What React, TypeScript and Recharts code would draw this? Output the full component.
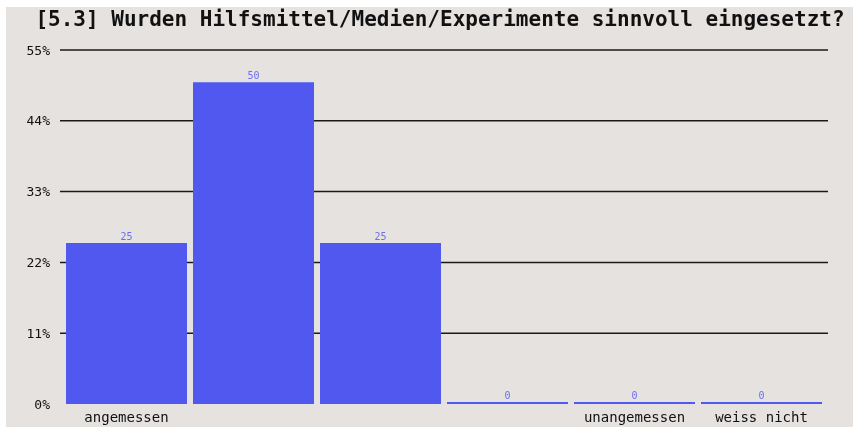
import { BarChart, Bar, XAxis, YAxis, CartesianGrid, LabelList } from 'recharts';

const CATEGORIES = ['1', '2', '3', '4', '5', '6'];
const TICK_LABELS = ['angemessen', '', '', '', 'unangemessen', 'weiss nicht'];
const PERCENTS = [25, 50, 25, 0, 0, 0];
const Y_TICKS = [0, 11, 22, 33, 44, 55];
const GRID_VALUES = [11, 22, 33, 44, 55];

const TITLE = '[5.3] Wurden Hilfsmittel/Medien/Experimente sinnvoll eingesetzt?';
const MONO = '"DejaVu Sans Mono", "Liberation Mono", monospace';

const data = CATEGORIES.map((c, i) => ({ cat: c, label: TICK_LABELS[i], value: PERCENTS[i] }));

// grid lines run a little past the bar area on both sides
const GridLine = (p: any) => (
  <line
    key={p.key}
    x1={p.x1 - 3}
    x2={p.x2 + 3}
    y1={p.y1}
    y2={p.y2}
    stroke="#1a1a1a"
    strokeWidth={1.5}
  />
);

export default function App() {
  return (
    <div style={{ position: 'fixed', left: 0, top: 0, width: 853, height: 427, background: '#fff' }}>
      <div style={{ position: 'absolute', left: 6, top: 7, width: 847, height: 420, background: '#e6e2e0' }}>
        <div
          style={{
            position: 'absolute',
            left: 0,
            top: 0,
            width: 868,
            textAlign: 'center',
            fontFamily: MONO,
            fontWeight: 'bold',
            fontSize: 21,
            lineHeight: '24px',
            color: '#111',
          }}
        >
          {TITLE}
        </div>
        <BarChart
          width={847}
          height={420}
          data={data}
          margin={{ top: 43, right: 28, bottom: 0, left: 0 }}
          barCategoryGap={3}
        >
          <CartesianGrid
            vertical={false}
            horizontalValues={GRID_VALUES}
            horizontal={GridLine}
          />
          <XAxis
            dataKey="cat"
            tickFormatter={(v: string, i: number) => TICK_LABELS[i]}
            axisLine={false}
            tickLine={false}
            height={23}
            tickMargin={2}
            interval={0}
            tick={{ fontFamily: MONO, fontSize: 14, fill: '#111' }}
          />
          <YAxis
            domain={[0, 55]}
            ticks={Y_TICKS}
            tickFormatter={(v: number) => `${v}%`}
            axisLine={false}
            tickLine={false}
            width={57}
            tickMargin={7}
            tick={{ fontFamily: MONO, fontSize: 13, fill: '#111' }}
          />
          <Bar dataKey="value" fill="#5058ef" minPointSize={2} isAnimationActive={false}>
            <LabelList
              dataKey="value"
              position="top"
              offset={3}
              style={{ fontFamily: MONO, fontSize: 10, fill: '#6b6ef2' }}
            />
          </Bar>
        </BarChart>
      </div>
    </div>
  );
}
